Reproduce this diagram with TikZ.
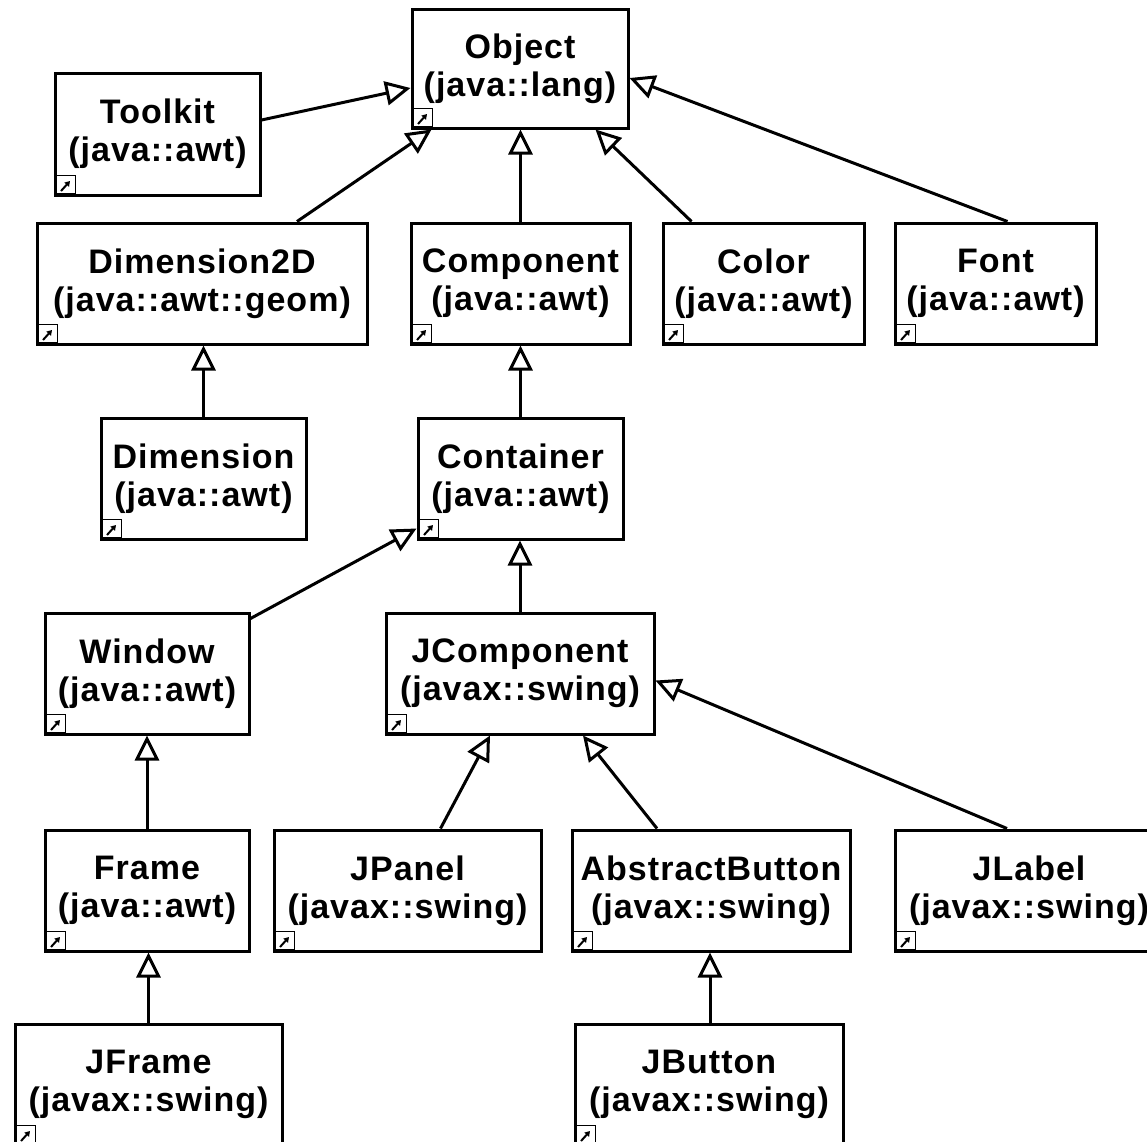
\documentclass[tikz,border=0pt]{standalone}
\usepackage{fontspec}
\newfontfamily\boxfont{Liberation Sans}[LetterSpace=3]
\usetikzlibrary{arrows.meta}
\tikzset{
  cls/.style={draw, line width=3pt, fill=white, inner sep=0pt, align=center,
    font=\boxfont\bfseries\fontsize{34}{38}\selectfont,
    path picture={
      \draw[line width=1pt, fill=white] ([shift={(1.5,-1.5)}]path picture bounding box.south west) rectangle +(19,-18);
      \draw[line width=2pt, -{Triangle[length=5pt,width=6pt]}] ([shift={(6,-4)}]path picture bounding box.south west) -- +(9,-10);
    }},
  gen/.style={line width=3pt, -{Triangle[open, length=25pt, width=24pt, line width=3pt]}}
}
\begin{document}
\begin{tikzpicture}[x=1pt, y=-1pt]
\clip (0,0) rectangle (1147,1141);
\fill[white] (0,0) rectangle (1147,1141);
\node[cls, minimum width=216, minimum height=119] (object) at (520,68.5) {Object\\(java::lang)};
\node[cls, minimum width=205, minimum height=122] (toolkit) at (157.5,134) {Toolkit\\(java::awt)};
\node[cls, minimum width=330, minimum height=121] (dimtwo) at (202,283.5) {Dimension2D\\(java::awt::geom)};
\node[cls, minimum width=219, minimum height=121] (component) at (520.5,283.5) {Component\\(java::awt)};
\node[cls, minimum width=201, minimum height=121] (color) at (763.5,283.5) {Color\\(java::awt)};
\node[cls, minimum width=201, minimum height=121] (font) at (995.5,283.5) {Font\\(java::awt)};
\node[cls, minimum width=205, minimum height=121] (dimension) at (203.5,478.5) {Dimension\\(java::awt)};
\node[cls, minimum width=205, minimum height=121] (container) at (520.5,478.5) {Container\\(java::awt)};
\node[cls, minimum width=204, minimum height=121] (window) at (147,673.5) {Window\\(java::awt)};
\node[cls, minimum width=268, minimum height=121] (jcomponent) at (520,673.5) {JComponent\\(javax::swing)};
\node[cls, minimum width=204, minimum height=121] (frame) at (147,890.5) {Frame\\(java::awt)};
\node[cls, minimum width=267, minimum height=121] (jpanel) at (407.5,890.5) {JPanel\\(javax::swing)};
\node[cls, minimum width=278, minimum height=121] (abutton) at (711,890.5) {AbstractButton\\(javax::swing)};
\node[cls, minimum width=268, minimum height=121] (jlabel) at (1029,890.5) {JLabel\\(javax::swing)};
\node[cls, minimum width=267, minimum height=121] (jframe) at (148.5,1084.5) {JFrame\\(javax::swing)};
\node[cls, minimum width=268, minimum height=121] (jbutton) at (709,1084.5) {JButton\\(javax::swing)};

\draw[gen] ([yshift=14pt]toolkit.east) -- ([yshift=-19.5pt]object.west);
\draw[gen] ([xshift=95pt]dimtwo.north) -- ([xshift=21pt]object.south west);
\draw[gen] (component.north) -- (component.north |- object.south);
\draw[gen] ([xshift=30pt]color.north west) -- ([xshift=-34pt]object.south east);
\draw[gen] ([xshift=12pt]font.north) -- ([yshift=-9.5pt]object.east);
\draw[gen] (dimension.north) -- (dimension.north |- dimtwo.south);
\draw[gen] (container.north) -- (container.north |- component.south);
\draw[gen] ([yshift=-7pt]window.north east) -- ([yshift=12pt]container.south west);
\draw[gen] (jcomponent.north) -- (jcomponent.north |- container.south);
\draw[gen] (frame.north) -- (frame.north |- window.south);
\draw[gen] ([xshift=33pt]jpanel.north) -- ([xshift=-30pt]jcomponent.south);
\draw[gen] ([xshift=-54pt]abutton.north) -- ([xshift=63pt]jcomponent.south);
\draw[gen] ([xshift=-22pt]jlabel.north) -- ([yshift=-7pt]jcomponent.east);
\draw[gen] (jframe.north) -- (jframe.north |- frame.south);
\draw[gen] ([xshift=1pt]jbutton.north) -- ([xshift=1pt]jbutton.north |- abutton.south);
\end{tikzpicture}
\end{document}
